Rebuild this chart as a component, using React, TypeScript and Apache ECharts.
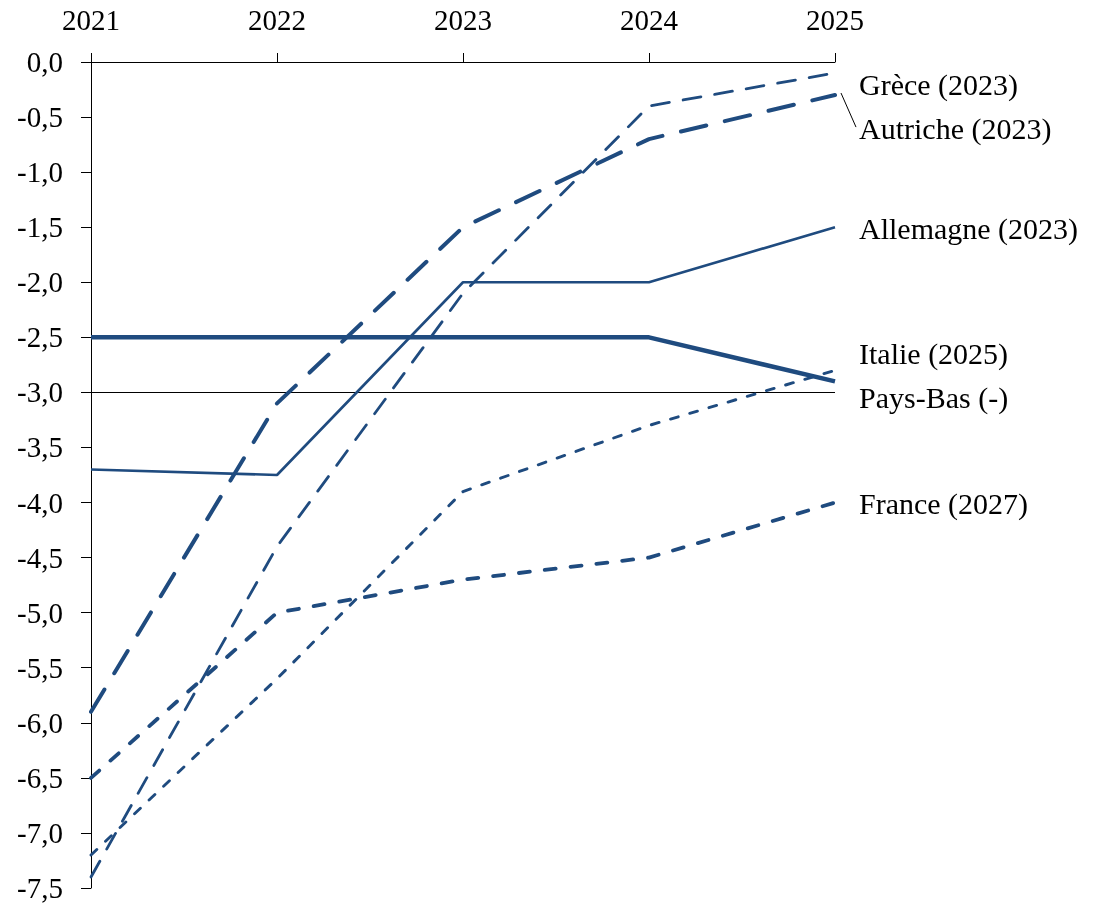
import React, { useEffect, useRef } from "react";
import * as echarts from "echarts";

const years = ["2021", "2022", "2023", "2024", "2025"];
const grece = [-7.4, -4.4, -2.1, -0.4, -0.1];
const autriche = [-5.9, -3.1, -1.5, -0.7, -0.3];
const allemagne = [-3.7, -3.75, -2.0, -2.0, -1.5];
const italie = [-7.2, -5.6, -3.9, -3.3, -2.8];
const paysBas = [-2.5, -2.5, -2.5, -2.5, -2.9];
const france = [-6.5, -5.0, -4.7, -4.5, -4.0];

const labelNames = ["Grèce (2023)", "Autriche (2023)", "Allemagne (2023)", "Italie (2025)", "Pays-Bas (-)", "France (2027)"];
const labelLevels = [-0.2, -0.6, -1.51, -2.65, -3.05, -4.01];

const COLOR = "#1f4b7f";
const FONT = "'Liberation Serif', 'Times New Roman', serif";

export default function App() {
  const ref = useRef<HTMLDivElement>(null);
  useEffect(() => {
    if (!ref.current) return;
    const chart = echarts.init(ref.current, undefined, { renderer: "svg" });
    const mk = (name: string, data: number[], width: number, type: any, extra: any = {}) => ({
      name,
      type: "line",
      data,
      showSymbol: false,
      symbol: "none",
      lineStyle: { color: COLOR, width, type, cap: type === "solid" ? "butt" : "round" },
      z: 3,
      ...extra,
    });
    chart.setOption({
      animation: false,
      grid: { left: 91, right: 271, top: 62, bottom: 22 },
      xAxis: {
        type: "category",
        data: years,
        position: "top",
        boundaryGap: false,
        axisLine: { onZero: false, lineStyle: { color: "#000", width: 1 } },
        axisTick: { show: true, length: 9, lineStyle: { color: "#000" } },
        axisLabel: { color: "#000", fontFamily: FONT, fontSize: 29, margin: 28 },
        splitLine: { show: false },
      },
      yAxis: {
        type: "value",
        min: -7.5,
        max: 0,
        interval: 0.5,
        axisLine: { show: true, lineStyle: { color: "#000", width: 1 } },
        axisTick: { show: true, length: 10, lineStyle: { color: "#000" } },
        axisLabel: {
          color: "#000",
          fontFamily: FONT,
          fontSize: 29,
          margin: 28,
          formatter: (v: number) => v.toFixed(1).replace(".", ","),
        },
        splitLine: { show: false },
      },
      series: [
        mk("Pays-Bas", paysBas, 4.5, "solid", {
          markLine: {
            silent: true,
            symbol: "none",
            label: { show: false },
            lineStyle: { color: "#000", width: 1, type: "solid" },
            data: [{ yAxis: -3 }],
            z: 1,
          },
        }),
        mk("Allemagne", allemagne, 2.6, "solid"),
        mk("Grèce", grece, 2.8, [18, 14]),
        mk("Autriche", autriche, 4, [26, 19]),
        mk("France", france, 3.8, [11, 15]),
        mk("Italie", italie, 2.9, [8, 12]),
      ],
    });

    const graphics: any[] = [];
    labelNames.forEach((name, i) => {
      const p = chart.convertToPixel({ gridIndex: 0 }, [years.length - 1, labelLevels[i]]) as number[];
      graphics.push({
        type: "text",
        x: p[0] + 24,
        y: p[1],
        style: {
          text: name,
          fill: "#000",
          font: `30px ${FONT}`,
          verticalAlign: "middle",
          align: "left",
        },
      });
    });
    const endA = chart.convertToPixel({ gridIndex: 0 }, [years.length - 1, autriche[autriche.length - 1]]) as number[];
    const labA = chart.convertToPixel({ gridIndex: 0 }, [years.length - 1, labelLevels[1]]) as number[];
    graphics.push({
      type: "line",
      shape: { x1: endA[0] + 6, y1: endA[1] - 2, x2: labA[0] + 21, y2: labA[1] - 1 },
      style: { stroke: "#000", lineWidth: 1 },
    });
    chart.setOption({ graphic: graphics });

    return () => chart.dispose();
  }, []);
  return <div ref={ref} style={{ position: "fixed", left: 0, top: 0, width: 1106, height: 910 }} />;
}
